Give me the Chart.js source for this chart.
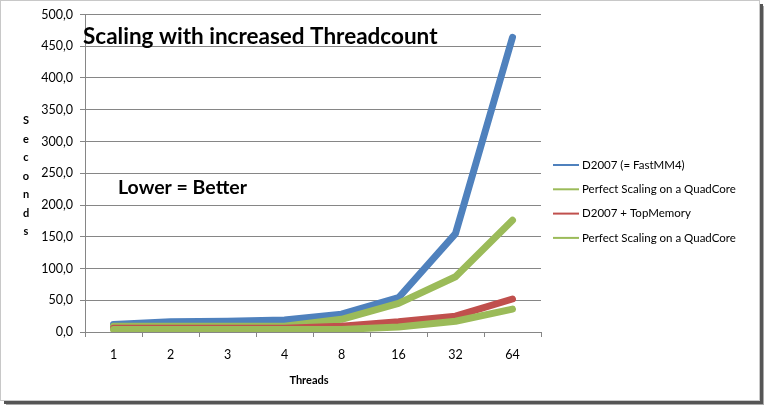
<!DOCTYPE html>
<html>
<head>
<meta charset="utf-8">
<script src="https://cdn.jsdelivr.net/npm/chart.js@4.4.1/dist/chart.umd.min.js"></script>
<style>
  html, body { margin: 0; padding: 0; background: #fff; }
  #wrap { position: relative; width: 765px; height: 408px; }
</style>
</head>
<body>
<div id="wrap"><canvas id="chart" width="765" height="408"></canvas></div>
<script>
const threads = ['1', '2', '3', '4', '8', '16', '32', '64'];
const fastMM = [12, 16, 17, 19, 28, 54, 155, 464];
const perfectFast = [9, 9, 9, 9, 20, 45, 87, 176];
const topMemory = [6, 6, 6, 6, 9, 16, 25, 52];
const perfectTop = [4, 4, 4, 4, 4, 8, 17, 36];

const seriesNames = ['D2007 (= FastMM4)', 'Perfect Scaling on a QuadCore', 'D2007 + TopMemory', 'Perfect Scaling on a QuadCore'];
const seriesColors = ['#4F81BD', '#9BBB59', '#C0504D', '#9BBB59'];
const chartTitle = 'Scaling with increased Threadcount';
const note = 'Lower = Better';
const yTitle = 'Seconds';
const xTitle = 'Threads';

const FONT = 'Lato, "Open Sans", sans-serif';

// frame, overlay texts and legend
const decor = {
    id: 'decor',
    beforeDraw(chart) {
        const c = chart.ctx;
        c.save();
        c.fillStyle = '#fff';
        c.fillRect(0, 0, chart.width, chart.height);
        c.restore();
    },
    afterDraw(chart) {
        const c = chart.ctx;
        const area = chart.chartArea;
        c.save();
        // outer frame with shadow
        c.strokeStyle = '#c8c8c8';
        c.lineWidth = 1;
        c.strokeRect(0.5, 0.5, 759, 400);
        c.fillStyle = '#555';
        c.fillRect(760, 4, 3, 400);
        c.fillRect(4, 401, 759, 3);
        c.fillStyle = '#aaa';
        c.fillRect(763, 6, 1, 399);
        c.fillRect(6, 404, 758, 1);

        c.fillStyle = '#000';
        c.textBaseline = 'alphabetic';
        c.textAlign = 'left';
        c.font = 'bold 22.5px ' + FONT;
        c.fillText(chartTitle, 83, 44);
        c.font = 'bold 19.5px ' + FONT;
        c.fillText(note, 118, 194);

        // stacked y title
        c.font = 'bold 11px ' + FONT;
        c.textAlign = 'center';
        yTitle.split('').forEach((ch, i) => c.fillText(ch, 26, 124 + i * 18.5));
        c.fillText(xTitle, 309, 384);

        // legend
        c.textAlign = 'left';
        c.textBaseline = 'middle';
        c.font = '11.5px ' + FONT;
        chart.data.datasets.forEach((ds, i) => {
            const y = 165 + i * 24.3;
            c.strokeStyle = ds.borderColor;
            c.lineWidth = 2;
            c.beginPath();
            c.moveTo(553, y);
            c.lineTo(579, y);
            c.stroke();
            c.fillStyle = '#000';
            c.fillText(ds.label, 582, y);
        });
        c.restore();
    }
};

const datasets = [fastMM, perfectFast, topMemory, perfectTop].map((vals, i) => ({
    label: seriesNames[i],
    data: vals,
    borderColor: seriesColors[i],
    backgroundColor: seriesColors[i],
    borderWidth: 7,
    pointRadius: 0,
    tension: 0,
    borderCapStyle: 'round',
    borderJoinStyle: 'round',
    order: 4 - i // later series on top, like the original
}));

new Chart(document.getElementById('chart'), {
    type: 'line',
    data: { labels: threads, datasets: datasets },
    options: {
        responsive: false,
        animation: false,
        layout: { padding: { top: 13, right: 224, left: 0, bottom: 0 } },
        plugins: { legend: { display: false }, tooltip: { enabled: false } },
        scales: {
            x: {
                offset: true,
                afterFit: s => { s.height = 76; },
                grid: { offset: true, drawOnChartArea: false, tickLength: 5, color: '#868686' },
                border: { color: '#868686' },
                ticks: { color: '#000', padding: 10, font: { family: FONT, size: 12.5 } }
            },
            y: {
                min: 0,
                max: 500,
                afterFit: s => { s.width = 85; },
                ticks: {
                    stepSize: 50,
                    color: '#000',
                    padding: 7,
                    font: { family: FONT, size: 12.5 },
                    callback: v => v.toFixed(1).replace('.', ',')
                },
                grid: { color: '#868686', tickLength: 5 },
                border: { color: '#868686' }
            }
        }
    },
    plugins: [decor]
});
</script>
</body>
</html>
